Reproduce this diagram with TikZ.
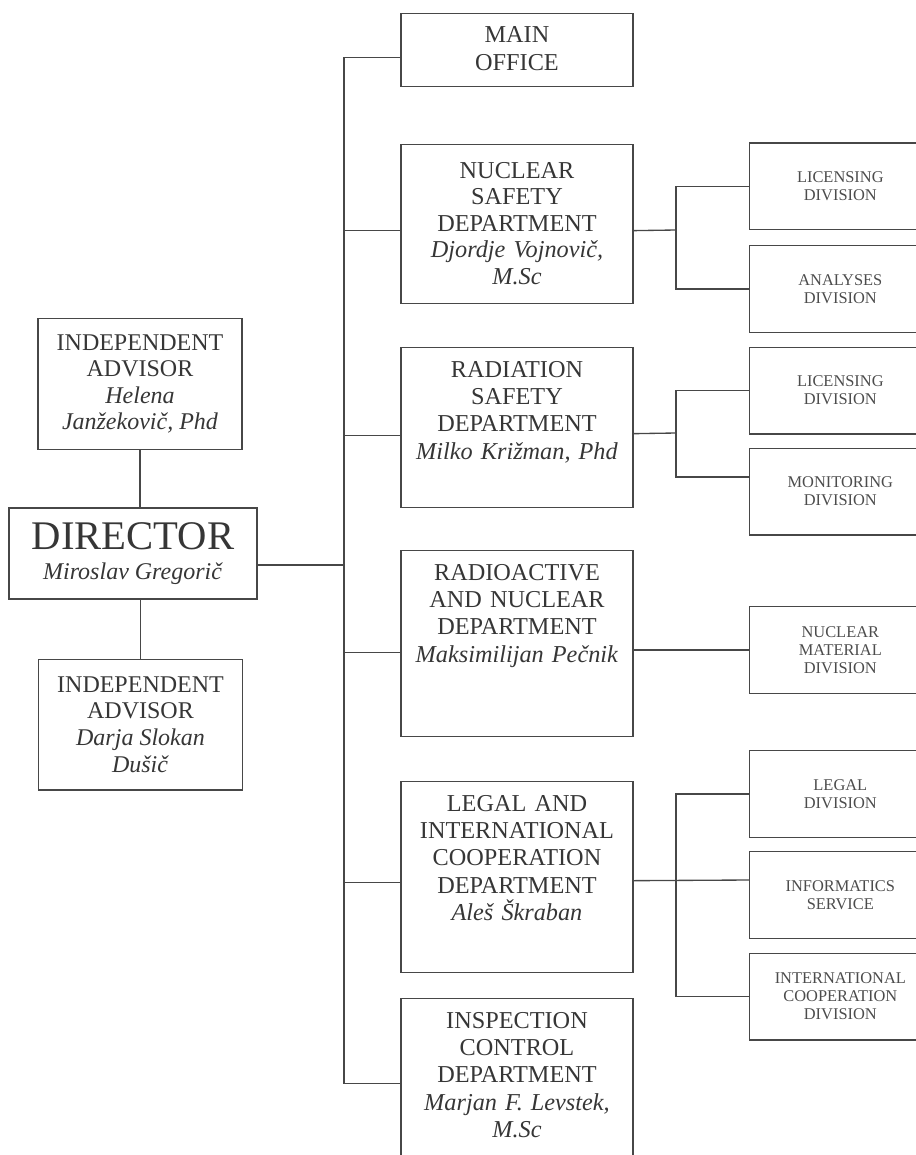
\documentclass[tikz,border=0pt]{standalone}
\usepackage{fontspec}
\setmainfont{Liberation Serif}
\usepackage{tikz}
\usetikzlibrary{calc}
\definecolor{oc-line}{HTML}{474747}
\definecolor{oc-text}{HTML}{363636}
\definecolor{oc-div}{HTML}{4C4C4C}

\begin{document}
\begin{tikzpicture}[
    x=0.75pt, y=-0.75pt,
    dept/.style={draw=oc-line, line width=1pt, anchor=north, inner sep=0pt, text width=174pt, align=center, text height=22pt, text depth=#1, text=oc-text, font=\fontsize{18.2}{20.6}\selectfont},
    advisor/.style={draw=oc-line, line width=1pt, minimum width=153pt, minimum height=98pt, align=center, text=oc-text, font=\fontsize{18}{19.9}\selectfont},
    division/.style={draw=oc-line, line width=1pt, anchor=west, minimum width=136pt, minimum height=65pt, align=center, text=oc-div, font=\fontsize{12.3}{13.4}\selectfont},
    conn/.style={draw=oc-line, line width=1pt}
]
\useasboundingbox (0,0) rectangle (915,1155);

% ── Director and advisors ────────────────────────────────
\node[advisor] (adv1) at (140, 384) {INDEPENDENT\\ADVISOR\\\textit{Helena}\\\textit{Janžekovič, Phd}};
\node[draw=oc-line, line width=1pt, minimum width=186pt, minimum height=68.25pt, align=center, text=oc-text, font=\fontsize{18}{22.5}\selectfont] (dir) at (133, 553.5) {{\fontsize{30.5}{22.5}\selectfont DIRECTOR}\\\textit{Miroslav Gregorič}};
\node[advisor] (adv2) at (140.5, 724.5) {INDEPENDENT\\ADVISOR\\\textit{Darja Slokan}\\\textit{Dušič}};

\draw[conn] (adv1.south) -- (adv1.south |- dir.north);
\draw[conn] (adv2.north |- dir.south) -- (adv2.north);

% ── Departments ──────────────────────────────────────────
\node[dept=32.75pt] (main) at (517, 13) {MAIN\\OFFICE};
\node[dept=94pt, text height=25.2pt, font=\fontsize{18.2}{19.9}\selectfont] (nsafe) at (517, 144) {NUCLEAR\\SAFETY\\DEPARTMENT\\\textit{Djordje Vojnovič,}\\\textit{M.Sc}};
\node[dept=98pt] (rsafe) at (517, 347) {RADIATION\\SAFETY\\DEPARTMENT\\\textit{Milko Križman, Phd}};
\node[dept=117.5pt] (radio) at (517, 550) {RADIOACTIVE\\AND NUCLEAR\\DEPARTMENT\\\textit{Maksimilijan Pečnik}};
\node[dept=121.25pt] (legal) at (517, 781) {LEGAL AND\\INTERNATIONAL\\COOPERATION\\DEPARTMENT\\\textit{Aleš Škraban}};
\node[dept=99.5pt] (insp) at (517, 998) {INSPECTION\\CONTROL\\DEPARTMENT\\\textit{Marjan F. Levstek,}\\\textit{M.Sc}};

% bus from the director to all departments
\coordinate (bus) at (344, 565);
\draw[conn] ($(dir.east)+(0,11.5)$) -- (bus);
\draw[conn] ($(main.west)+(0,7.5)$) -| (bus) |- ($(insp.west)+(0,4)$);
\foreach \d/\off in {nsafe/6.5, rsafe/8, radio/9, legal/5.5}
    \draw[conn] ($(\d.west)+(0,\off)$) -- ++(-57,0);

% ── Divisions (right edge runs off the page) ─────────────
\node[division] (lic1) at (749, 186.5) {LICENSING\\DIVISION};
\node[division] (ana) at (749, 289) {ANALYSES\\DIVISION};
\node[division] (lic2) at (749, 390.5) {LICENSING\\DIVISION};
\node[division] (mon) at (749, 491.5) {MONITORING\\DIVISION};
\node[division] (nmat) at (749, 650) {NUCLEAR\\MATERIAL\\DIVISION};
\node[division] (legdiv) at (749, 794) {LEGAL\\DIVISION};
\node[division] (inf) at (749, 895) {INFORMATICS\\SERVICE};
\node[division] (intl) at (749, 996.5) {INTERNATIONAL\\COOPERATION\\DIVISION};

% department -> division branches
\coordinate (j1) at (676, 230);
\coordinate (j2) at (676, 433);
\coordinate (j3) at (676, 880);
\draw[conn] ($(nsafe.east)+(0,6.5)$) -- (j1);
\draw[conn] (lic1.west) -| (j1) |- (ana.west);
\draw[conn] ($(rsafe.east)+(0,6)$) -- (j2);
\draw[conn] (lic2.west) -| (j2) |- ($(mon.west)+(0,-14.5)$);
\draw[conn] (nmat.west) -- (nmat.west -| radio.east);
\draw[conn] ($(legal.east)+(0,3.5)$) -- ($(inf.west)+(0,-15)$);
\draw[conn] (legdiv.west) -| (j3) |- (intl.west);

\end{tikzpicture}
\end{document}
